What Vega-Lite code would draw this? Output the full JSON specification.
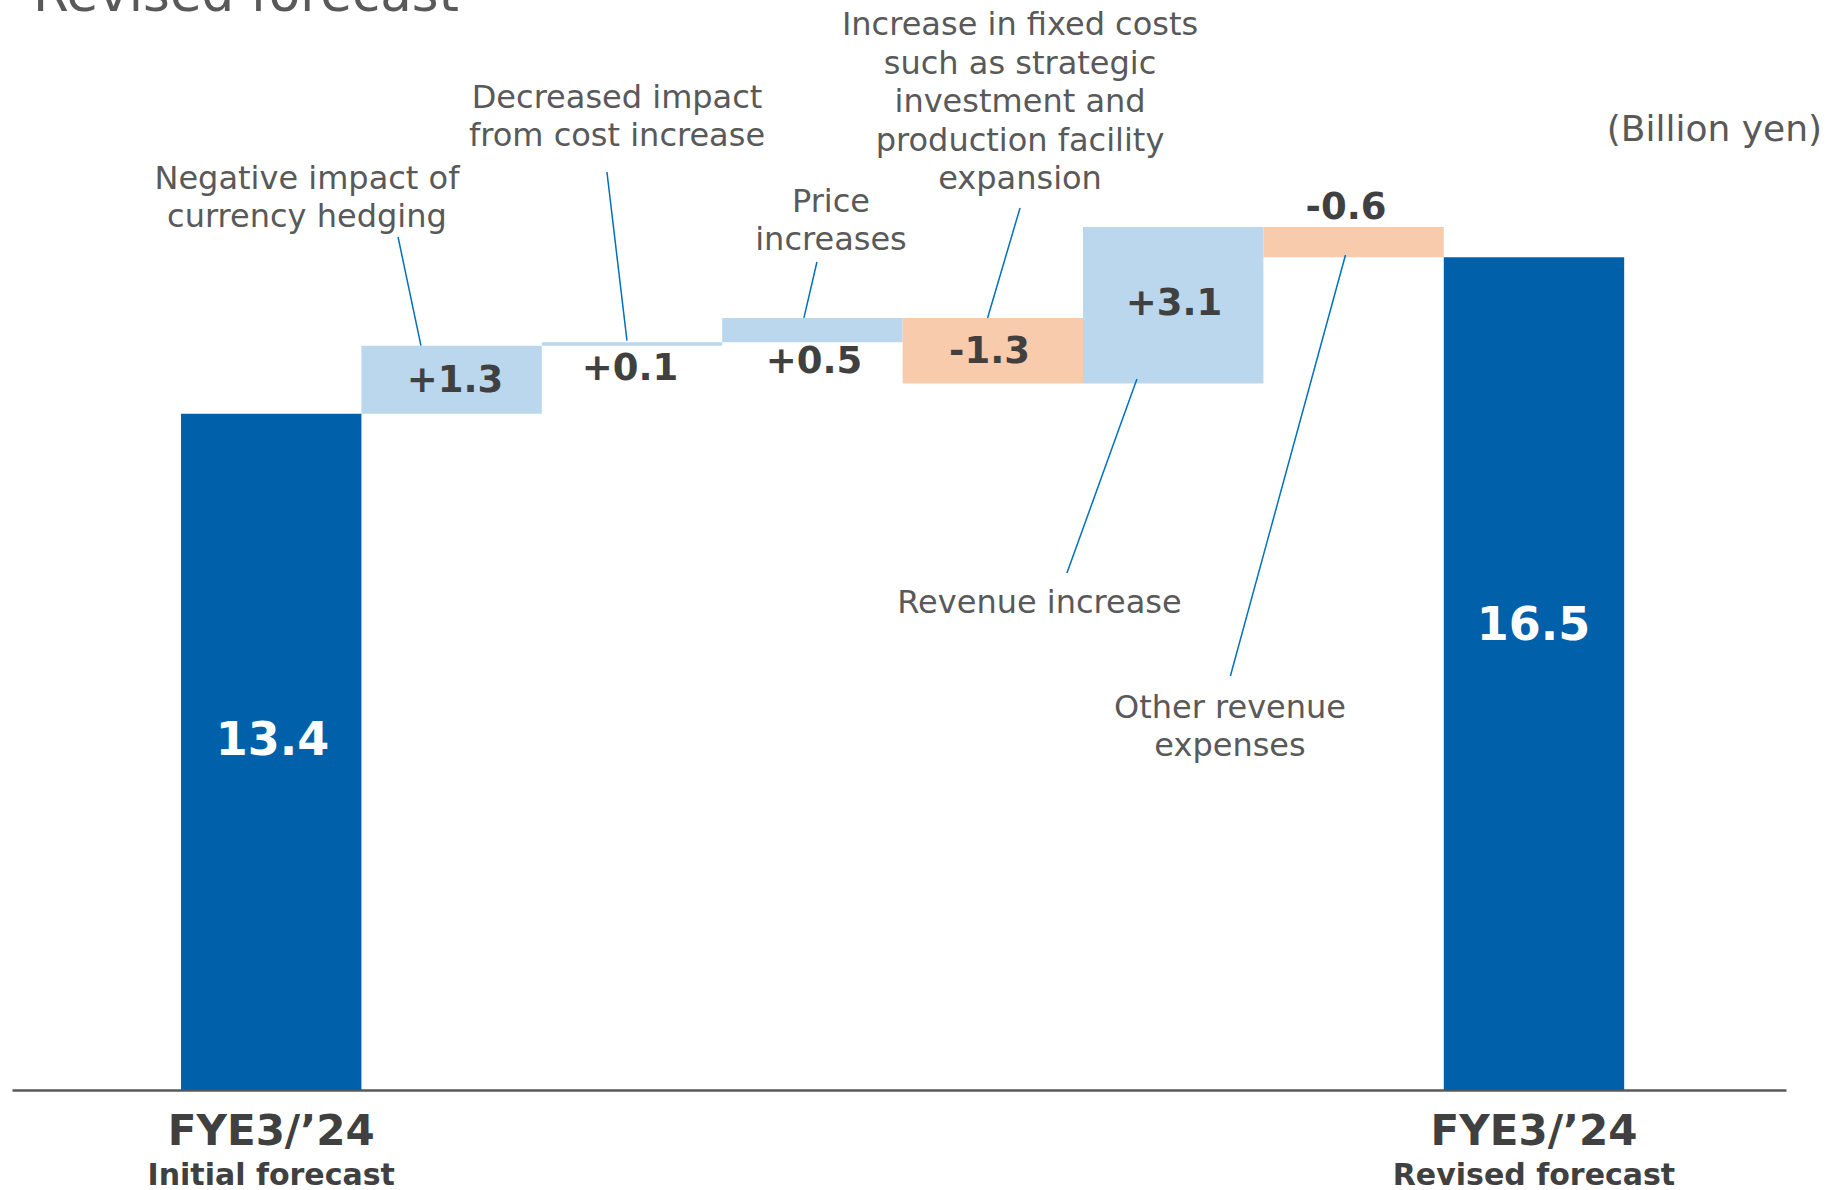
{
  "$schema": "https://vega.github.io/schema/vega-lite/v6.json",
  "autosize": {"type": "none"},
  "width": 1774,
  "height": 1090,
  "padding": {"left": 12, "top": 0, "right": 54, "bottom": 100},
  "background": "white",
  "config": {"view": {"stroke": null}, "font": "DejaVu Sans"},
  "layer": [
    {
      "data": {"values": [
        {"step": "FYE3/’24 Initial forecast", "i": 0, "j": 1, "start": 0, "end": 13.4, "kind": "total"},
        {"step": "Negative impact of currency hedging", "i": 1, "j": 2, "start": 13.4, "end": 14.75, "kind": "increase"},
        {"step": "Decreased impact from cost increase", "i": 2, "j": 3, "start": 14.75, "end": 14.82, "kind": "increase"},
        {"step": "Price increases", "i": 3, "j": 4, "start": 14.82, "end": 15.3, "kind": "increase"},
        {"step": "Increase in fixed costs", "i": 4, "j": 5, "start": 15.3, "end": 14.0, "kind": "decrease"},
        {"step": "Revenue increase", "i": 5, "j": 6, "start": 14.0, "end": 17.1, "kind": "increase"},
        {"step": "Other revenue expenses", "i": 6, "j": 7, "start": 17.1, "end": 16.5, "kind": "decrease"},
        {"step": "FYE3/’24 Revised forecast", "i": 7, "j": 8, "start": 0, "end": 16.5, "kind": "total"}
      ]},
      "mark": {"type": "bar", "stroke": null},
      "encoding": {
        "x": {"field": "i", "type": "quantitative", "scale": {"domain": [-0.937, 8.897], "nice": false, "zero": false},
              "axis": {"title": null, "labels": false, "ticks": false, "grid": false, "domain": true, "domainColor": "#595959", "domainWidth": 2.5}},
        "x2": {"field": "j"},
        "y": {"field": "start", "type": "quantitative", "scale": {"domain": [0, 21.6], "nice": false}, "axis": null},
        "y2": {"field": "end"},
        "color": {"field": "kind", "type": "nominal", "legend": null,
                  "scale": {"domain": ["total", "increase", "decrease"], "range": ["#0061AA", "#BAD7EE", "#F8CBAD"]}}
      }
    },
    {
      "data": {"values": [
        {"x": 1.203, "y": 16.904, "x2": 1.330, "y2": 14.75},
        {"x": 2.361, "y": 18.192, "x2": 2.472, "y2": 14.85},
        {"x": 3.525, "y": 16.408, "x2": 3.453, "y2": 15.3},
        {"x": 4.651, "y": 17.478, "x2": 4.471, "y2": 15.3},
        {"x": 5.299, "y": 14.089, "x2": 4.911, "y2": 10.245},
        {"x": 6.455, "y": 16.547, "x2": 5.817, "y2": 8.204}
      ]},
      "mark": {"type": "rule", "color": "#0070C0", "strokeWidth": 1.5},
      "encoding": {
        "x": {"field": "x", "type": "quantitative"},
        "y": {"field": "y", "type": "quantitative"},
        "x2": {"field": "x2"},
        "y2": {"field": "y2"}
      }
    },
    {
      "data": {"values": [
        {"t": "Negative impact of\ncurrency hedging", "x": 0.698, "y": 17.855},
        {"t": "Decreased impact\nfrom cost increase", "x": 2.417, "y": 19.46},
        {"t": "Price\nincreases", "x": 3.603, "y": 17.40},
        {"t": "Increase in fixed costs\nsuch as strategic\ninvestment and\nproduction facility\nexpansion", "x": 4.651, "y": 20.906},
        {"t": "Revenue increase", "x": 4.759, "y": 9.452},
        {"t": "Other revenue\nexpenses", "x": 5.815, "y": 7.372}
      ]},
      "mark": {"type": "text", "font": "DejaVu Sans", "fontSize": 32, "color": "#595959", "align": "center", "baseline": "alphabetic", "lineBreak": "\n", "lineHeight": 38.5},
      "encoding": {
        "x": {"field": "x", "type": "quantitative"},
        "y": {"field": "y", "type": "quantitative"},
        "text": {"field": "t", "type": "nominal"}
      }
    },
    {
      "data": {"values": [
        {"v": "+1.3", "x": 1.519, "y": 13.832},
        {"v": "+0.1", "x": 2.489, "y": 14.070},
        {"v": "+0.5", "x": 3.509, "y": 14.208},
        {"v": "-1.3", "x": 4.482, "y": 14.406},
        {"v": "+3.1", "x": 5.504, "y": 15.358},
        {"v": "-0.6", "x": 6.458, "y": 17.255}
      ]},
      "mark": {"type": "text", "font": "DejaVu Sans", "fontSize": 37, "fontWeight": "bold", "color": "#404040", "align": "center", "baseline": "alphabetic"},
      "encoding": {
        "x": {"field": "x", "type": "quantitative"},
        "y": {"field": "y", "type": "quantitative"},
        "text": {"field": "v", "type": "nominal"}
      }
    },
    {
      "data": {"values": [
        {"v": "13.4", "x": 0.507, "y": 6.639},
        {"v": "16.5", "x": 7.497, "y": 8.918}
      ]},
      "mark": {"type": "text", "font": "DejaVu Sans", "fontSize": 46, "fontWeight": "bold", "color": "white", "align": "center", "baseline": "alphabetic"},
      "encoding": {
        "x": {"field": "x", "type": "quantitative"},
        "y": {"field": "y", "type": "quantitative"},
        "text": {"field": "v", "type": "nominal"}
      }
    },
    {
      "data": {"values": [
        {"a": "FYE3/’24", "x": 0.5},
        {"a": "FYE3/’24", "x": 7.5}
      ]},
      "mark": {"type": "text", "font": "DejaVu Sans", "fontSize": 42, "fontWeight": "bold", "color": "#404040", "align": "center", "baseline": "alphabetic"},
      "encoding": {
        "x": {"field": "x", "type": "quantitative"},
        "y": {"datum": -1.09, "type": "quantitative"},
        "text": {"field": "a", "type": "nominal"}
      }
    },
    {
      "data": {"values": [
        {"b": "Initial forecast", "x": 0.5},
        {"b": "Revised forecast", "x": 7.5}
      ]},
      "mark": {"type": "text", "font": "DejaVu Sans", "fontSize": 30, "fontWeight": "bold", "color": "#404040", "align": "center", "baseline": "alphabetic"},
      "encoding": {
        "x": {"field": "x", "type": "quantitative"},
        "y": {"datum": -1.883, "type": "quantitative"},
        "text": {"field": "b", "type": "nominal"}
      }
    },
    {
      "data": {"values": [
        {"t": "(Billion yen)", "x": 9.097, "y": 18.806}
      ]},
      "mark": {"type": "text", "font": "DejaVu Sans", "fontSize": 36, "color": "#595959", "align": "right", "baseline": "alphabetic"},
      "encoding": {
        "x": {"field": "x", "type": "quantitative"},
        "y": {"field": "y", "type": "quantitative"},
        "text": {"field": "t", "type": "nominal"}
      }
    },
    {
      "data": {"values": [
        {"t": "Revised forecast", "x": -0.82, "y": 21.382}
      ]},
      "mark": {"type": "text", "font": "DejaVu Sans", "fontSize": 51.5, "color": "#595959", "align": "left", "baseline": "alphabetic"},
      "encoding": {
        "x": {"field": "x", "type": "quantitative"},
        "y": {"field": "y", "type": "quantitative"},
        "text": {"field": "t", "type": "nominal"}
      }
    }
  ]
}
